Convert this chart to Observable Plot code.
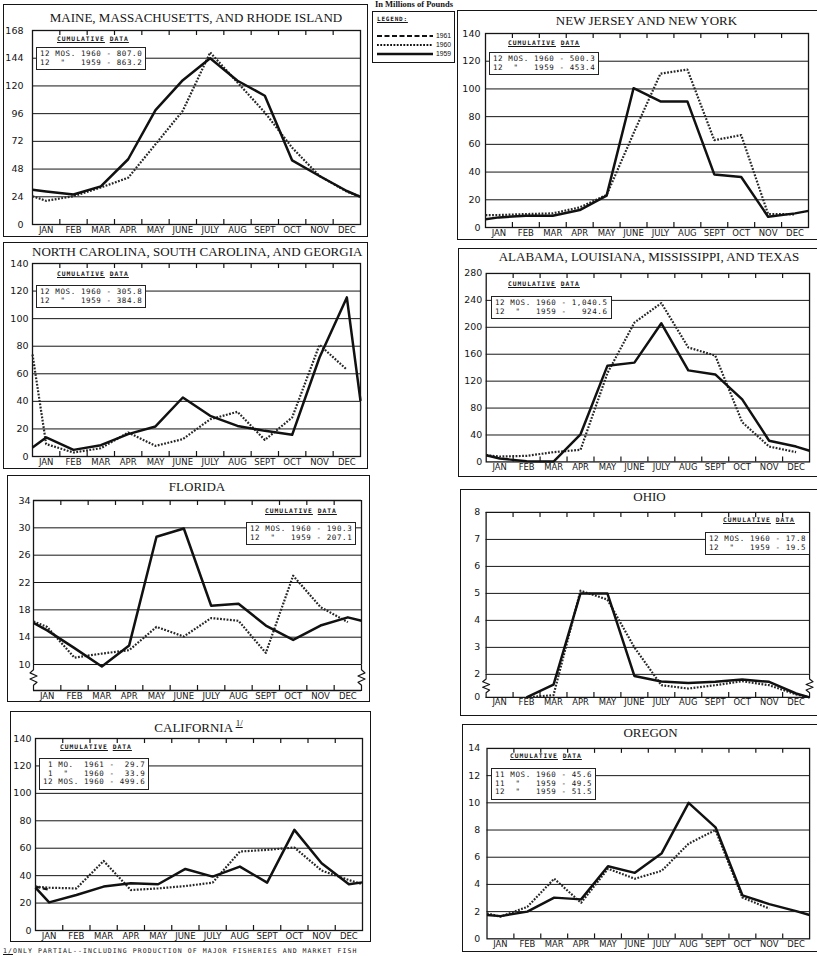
<!DOCTYPE html>
<html>
<head>
<meta charset="utf-8">
<script src="https://cdn.jsdelivr.net/npm/d3@7"></script>
<script src="https://cdn.jsdelivr.net/npm/@observablehq/plot@0.6"></script>
<style>
html,body{margin:0;padding:0;background:#fff;}
#page{position:relative;width:817px;height:956px;overflow:hidden;background:#fff;color:#151515;}
.box{position:absolute;border:1.3px solid #151515;box-sizing:border-box;}
.ptitle{position:absolute;font-family:"Liberation Serif",serif;font-size:13px;line-height:16px;text-align:center;white-space:nowrap;color:#151515;}
.ptitle sup{font-size:9px;text-decoration:underline;vertical-align:6px;}
.cumhead{position:absolute;font-family:"DejaVu Sans Mono",monospace;font-weight:bold;font-size:6.3px;line-height:8px;letter-spacing:1px;white-space:nowrap;}
.cumhead u{text-underline-offset:1px;}
.cumbox{position:absolute;font-family:"DejaVu Sans Mono",monospace;font-size:7.5px;line-height:8.5px;letter-spacing:.6px;white-space:pre;background:#fff;border:1px solid #222;padding:2px 3px;}
.plotwrap{position:absolute;}
.plotwrap svg{overflow:visible;}
#toptitle{position:absolute;left:364px;width:100px;top:0px;text-align:center;font-family:"Liberation Serif",serif;font-weight:bold;font-size:8.5px;line-height:9px;white-space:nowrap;}
#legend{position:absolute;left:372px;top:11px;width:83px;height:52px;border:1.2px solid #151515;box-sizing:border-box;}
#foot{position:absolute;left:3px;top:947px;font-family:"DejaVu Sans Mono",monospace;font-size:6.5px;letter-spacing:1.08px;white-space:nowrap;line-height:9px;}
</style>
</head>
<body>
<div id="page"></div>
<script>
// ---------------- DATA ----------------
const months = ["JAN","FEB","MAR","APR","MAY","JUNE","JULY","AUG","SEPT","OCT","NOV","DEC"];
const years = ["1961","1960","1959"];
// each series: [left edge, JAN ... DEC, right edge]  (millions of pounds)
const maine1959 = [30, 28.5, 26, 33, 56.5, 99, 125, 144, 124.5, 111.5, 55.5, 42, 29, 24];
const maine1960 = [24.5, 20.5, 24.5, 32, 40.5, 69.5, 98.5, 149, 123, 97, 66.5, 42, 28.5, 24];
const maineTicks = [0, 24, 48, 72, 96, 120, 144, 168];
const maineCum = ["12 MOS. 1960 - 807.0", "12  \"   1959 - 863.2"];

const nj1959 = [6, 7.3, 8.5, 8.5, 12.6, 23, 100.5, 91, 91, 38.3, 36.4, 7.8, 10.2, 12];
const nj1960 = [9, 9, 9.7, 10.2, 14.5, 23.5, 68, 111, 114, 63, 66.7, 9.7, 9.5, null];
const njTicks = [0, 20, 40, 60, 80, 100, 120, 140];
const njCum = ["12 MOS. 1960 - 500.3", "12  \"   1959 - 453.4"];

const nc1959 = [6.5, 13.8, 4.8, 8.2, 16.2, 21.8, 42.8, 29.5, 22.2, 18.6, 15.7, 71.8, 115.4, 40.4];
const nc1960 = [74, 9, 2.9, 6, 17.4, 7.7, 12.6, 27, 32.4, 12, 28.3, 81, 63, null];
const ncTicks = [0, 20, 40, 60, 80, 100, 120, 140];
const ncCum = ["12 MOS. 1960 - 305.8", "12  \"   1959 - 384.8"];

const gulf1959 = [10, 5, 1, 0.5, 41, 143, 147.5, 206, 136, 130, 93, 31.5, 22.8, 16.5];
const gulf1960 = [10, 8, 9, 14.5, 18, 132, 207, 236, 170, 158, 59, 22.8, 14.5, null];
const gulfTicks = [0, 40, 80, 120, 160, 200, 240, 280];
const gulfCum = ["12 MOS. 1960 - 1,040.5", "12  \"   1959 -   924.6"];

const fla1959 = [16.1, 15.0, 12.4, 9.7, 12.8, 28.7, 29.9, 18.6, 18.9, 15.7, 13.6, 15.7, 16.9, 16.4];
const fla1960 = [16.3, 15.5, 11.0, 11.6, 12.1, 15.5, 14.1, 16.8, 16.4, 11.7, 23.0, 18.4, 16.2, null];
const flaTicks = [10, 14, 18, 22, 26, 30, 34];
const flaCum = ["12 MOS. 1960 - 190.3", "12  \"   1959 - 207.1"];

const ohio1959 = [null, null, 0, 1.1, 5.0, 5.0, 1.86, 1.38, 1.26, 1.35, 1.55, 1.35, 0.34, 0];
const ohio1960 = [null, null, 0, 0.2, 5.1, 4.77, 3.0, 1.06, 0.77, 1.06, 1.4, 1.06, 0.26, 0];
const ohioTicks = [0, 2, 3, 4, 5, 6, 7, 8];
const ohioCum = ["12 MOS. 1960 - 17.8", "12  \"   1959 - 19.5"];

const cal1959 = [31.2, 20.5, 25.9, 32, 34.4, 33.7, 44.9, 39.3, 46.6, 34.9, 73.4, 49, 33.7, 35.1];
const cal1960 = [32, 31.2, 30.7, 50.7, 29.5, 30.7, 32.4, 34.9, 57.6, 58.8, 60.5, 43.7, 36.8, 33.7];
const cal1961 = [32, 29.7, null, null, null, null, null, null, null, null, null, null, null, null];
const calTicks = [0, 20, 40, 60, 80, 100, 120, 140];
const calCum = [" 1 MO.  1961 -  29.7", " 1  \"   1960 -  33.9", "12 MOS. 1960 - 499.6"];

const ore1959 = [1.75, 1.67, 2.0, 3.03, 2.9, 5.34, 4.85, 6.3, 10.0, 8.2, 3.2, 2.55, 2.04, 1.75];
const ore1960 = [1.87, 1.63, 2.35, 4.42, 2.65, 5.15, 4.42, 5.0, 7.0, 8.0, 3.03, 2.23, null, null];
const oreTicks = [0, 2, 4, 6, 8, 10, 12, 14];
const oreCum = ["11 MOS. 1960 - 45.6", "11  \"   1959 - 49.5", "12  \"   1959 - 51.5"];

// ---------------- LAYOUT ----------------
const panels = [
  {title: "MAINE, MASSACHUSETTS, AND RHODE ISLAND", s: {"1959": maine1959, "1960": maine1960}, ticks: maineTicks, cum: maineCum,
   box: [3, 4, 368, 237], frame: [32, 360, 30, 224], titleY: 18, pad: 9, head: [57, 39], cbox: [36, 47]},
  {title: "NEW JERSEY AND NEW YORK", s: {"1959": nj1959, "1960": nj1960}, ticks: njTicks, cum: njCum,
   box: [457, 10, 818, 240], frame: [485, 808, 33, 227], titleY: 21, pad: 5, head: [508, 43], cbox: [489, 52]},
  {title: "NORTH CAROLINA, SOUTH CAROLINA, AND GEORGIA", s: {"1959": nc1959, "1960": nc1960}, ticks: ncTicks, cum: ncCum,
   box: [3, 242, 368, 469], frame: [32, 360, 263, 456], titleY: 252, pad: 4, head: [57, 274], cbox: [36, 285]},
  {title: "ALABAMA, LOUISIANA, MISSISSIPPI, AND TEXAS", s: {"1959": gulf1959, "1960": gulf1960}, ticks: gulfTicks, cum: gulfCum,
   box: [458, 248, 818, 477], frame: [486, 812, 273, 463], titleY: 257, pad: 4, head: [508, 284], cbox: [491, 296]},
  {title: "FLORIDA", s: {"1959": fla1959, "1960": fla1960}, ticks: flaTicks, cum: flaCum,
   box: [7, 475, 370, 702], frame: [33, 361, 500, 690], titleY: 487, pad: 3, head: [265, 511], cbox: [246, 522],
   domain: [6.2, 34], breakAt: 10},
  {title: "OHIO", s: {"1959": ohio1959, "1960": ohio1960}, ticks: ohioTicks, cum: ohioCum,
   box: [460, 489, 818, 716], frame: [486, 813, 512, 699], titleY: 497, pad: 6, head: [723, 520], cbox: [705, 532],
   domain: [0, 2, 8], breakAt: 2, breakY: 675.7},
  {title: "CALIFORNIA", sup: "1/", s: {"1959": cal1959, "1960": cal1960, "1961": cal1961}, ticks: calTicks, cum: calCum,
   box: [10, 711, 371, 942], frame: [35, 362, 738, 930], titleY: 723, pad: 4, head: [60, 747], cbox: [39, 758]},
  {title: "OREGON", s: {"1959": ore1959, "1960": ore1960}, ticks: oreTicks, cum: oreCum,
   box: [462, 724, 818, 952], frame: [487, 814, 748, 941], titleY: 733, pad: 7, head: [510, 756], cbox: [491, 768]}
];

const styles = {
  "1959": {stroke: "#111", strokeWidth: 2.5, strokeLinecap: "butt"},
  "1960": {stroke: "#262626", strokeWidth: 2.2, strokeDasharray: "1.8 1.5", strokeLinecap: "butt"},
  "1961": {stroke: "#111", strokeWidth: 2.2, strokeDasharray: "5 2.5", strokeLinecap: "butt"}
};

const page = document.getElementById("page");
function el(cls, css, html) {
  const d = document.createElement("div");
  if (cls) d.className = cls;
  Object.assign(d.style, css);
  if (html != null) d.innerHTML = html;
  page.appendChild(d);
  return d;
}
const posOf = i => i === 0 ? 0 : i === 13 ? 12 : i - 0.5;

function drawPanel(p) {
  const [bx0, by0, bx1, by1] = p.box;
  el("box", {left: bx0 + "px", top: by0 + "px", width: (bx1 - bx0) + "px", height: (by1 - by0) + "px"});
  const [fx0, fx1, fy0, fy1] = p.frame;
  const mL = 36, mR = 8, mT = 5, mB = 14;
  const W = fx1 - fx0 + mL + mR, H = fy1 - fy0 + mT + mB, innerH = fy1 - fy0;
  const domain = p.domain || [p.ticks[0], p.ticks[p.ticks.length - 1]];
  const lo = domain[0], hi = domain[domain.length - 1];
  const range = domain.length === 3 ? [H - mB, mT + (p.breakY - fy0), mT] : [H - mB, mT];
  const grid = p.ticks.filter(t => t > lo && t < hi);
  const stroke = "#151515";
  const marks = [Plot.ruleY(grid, {stroke, strokeWidth: 1})];
  if (p.breakAt != null) {
    const w = 3.5 / ((fx1 - fx0) / 12);
    const fr = [0, 0.2, 0.32, 0.44, 0.56, 0.68, 0.8, 1];
    const off = [0, 0, 1, -1, 1, -1, 0, 0];
    const zig = [];
    for (const side of [0, 12]) {
      const sgn = side === 0 ? -1 : 1;
      fr.forEach((f, k) => zig.push({side, x: side + sgn * off[k] * w, y: p.breakAt - f * (p.breakAt - lo)}));
    }
    marks.push(Plot.ruleY([lo, hi], {stroke, strokeWidth: 1.3}));
    marks.push(Plot.ruleX([0, 12], {y1: p.breakAt, y2: hi, stroke, strokeWidth: 1.3}));
    marks.push(Plot.line(zig, {x: "x", y: "y", z: "side", stroke, strokeWidth: 1.2}));
  } else {
    marks.push(Plot.frame({stroke, strokeWidth: 1.3}));
  }
  const bounds = d3.range(1, 12);
  marks.push(Plot.tickX(bounds, {x: d => d, insetBottom: innerH - 5, stroke, strokeWidth: 1.2}));
  marks.push(Plot.tickX(bounds, {x: d => d, insetTop: innerH - 5, stroke, strokeWidth: 1.2}));
  for (const yr of ["1961", "1960", "1959"]) {
    const arr = p.s[yr];
    if (!arr) continue;
    const rows = arr.map((v, i) => ({x: posOf(i), y: v}));
    marks.push(Plot.line(rows, {x: "x", y: "y", ...styles[yr]}));
  }
  marks.push(Plot.axisY({ticks: p.ticks, tickSize: 0, tickPadding: p.pad, fontSize: 9.5, label: null}));
  marks.push(Plot.axisX({ticks: d3.range(12).map(i => i + 0.5), tickFormat: d => months[Math.floor(d)],
    tickSize: 0, tickPadding: 2, fontSize: 8.5, label: null}));
  const svg = Plot.plot({
    width: W, height: H, marginLeft: mL, marginRight: mR, marginTop: mT, marginBottom: mB,
    x: {domain: [0, 12], range: [mL, W - mR]},
    y: {type: "linear", domain, range},
    style: {fontFamily: "DejaVu Sans", color: "#151515", background: "transparent", overflow: "visible"},
    marks
  });
  const wrap = el("plotwrap", {left: (fx0 - mL) + "px", top: (fy0 - mT) + "px"});
  wrap.appendChild(svg);
  el("ptitle", {left: fx0 + "px", width: (fx1 - fx0) + "px", top: (p.titleY - 8) + "px"},
    p.title + (p.sup ? " <sup>" + p.sup + "</sup>" : ""));
  el("cumhead", {left: p.head[0] + "px", top: (p.head[1] - 4) + "px"}, "<u>CUMULATIVE</u> <u>DATA</u>");
  const cb = el("cumbox", {left: p.cbox[0] + "px", top: p.cbox[1] + "px"});
  cb.textContent = p.cum.join("\n");
}
panels.forEach(drawPanel);

// top heading
const tt = el(null, {}, "In Millions of Pounds"); tt.id = "toptitle";

// legend
const lg = el(null, {}, ""); lg.id = "legend";
const dashes = {"1961": "5 2.5", "1960": "1.8 1.5", "1959": null};
let svgL = '<div style="position:absolute;left:4px;top:3px;font-family:DejaVu Sans Mono,monospace;font-weight:bold;font-size:6px;letter-spacing:.8px;text-decoration:underline;">LEGEND:</div>';
svgL += '<svg width="83" height="52" style="position:absolute;left:0;top:0">';
years.forEach((yr, i) => {
  const y = 24 + i * 9;
  svgL += `<line x1="4" x2="60" y1="${y}" y2="${y}" stroke="#111" stroke-width="${yr === "1959" ? 2.5 : 2.2}" ${dashes[yr] ? `stroke-dasharray="${dashes[yr]}"` : ""}/>`;
  svgL += `<text x="63" y="${y + 2.3}" font-family="Liberation Sans" font-size="6.8" fill="#111">${yr}</text>`;
});
svgL += '</svg>';
lg.innerHTML = svgL;

// footnote
const ft = el(null, {}, '<span style="text-decoration:underline">1/</span>ONLY PARTIAL--INCLUDING PRODUCTION OF MAJOR FISHERIES AND MARKET FISH');
ft.id = "foot";
</script>
</body>
</html>
